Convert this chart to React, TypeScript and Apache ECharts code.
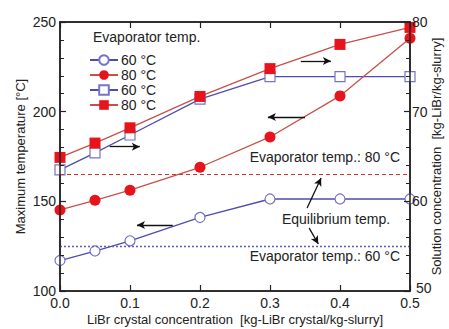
import React, { useEffect, useRef } from "react";
import * as echarts from "echarts";

const xCats = [0, 0.05, 0.1, 0.2, 0.3, 0.4, 0.5];
const maxT60 = [117, 122.3, 128, 141, 151.3, 151.3, 151.3];
const maxT80 = [145.2, 150.6, 156.2, 169, 185.9, 208.8, 241];
const conc60 = [63.5, 65.4, 67.4, 71.4, 73.9, 73.9, 73.9];
const conc80 = [64.9, 66.5, 68.2, 71.7, 74.8, 77.5, 79.4];
const evap80 = 165;
const evap60 = 125;
// annotation arrows [x1, y1, x2, y2] in left-axis data space
const arrows = [
  [0.071, 180.5, 0.114, 180.5],
  [0.344, 228.3, 0.387, 228.3],
  [0.35, 197, 0.297, 197],
  [0.161, 136.8, 0.11, 136.8],
  [0.353, 146.3, 0.373, 163],
  [0.356, 135.1, 0.369, 126.2],
];

const RED = "#e8141c";
const RED_LINE = "#c8504a";
const BLUE_LINE = "#4d4db0";
const BLUE_MARK = "#7474c8";
const FONT = "Liberation Sans, Arial, sans-serif";
const AX = "#222222";

export default function App() {
  const ref = useRef<HTMLDivElement>(null);
  useEffect(() => {
    const chart = echarts.init(ref.current!, null, { renderer: "svg" });
    const pairs = (ys: number[]) => xCats.map((x, i) => [x, ys[i]]);
    const axisText = { color: "#222", fontFamily: FONT, fontSize: 14 };
    const line = () => ({ show: true, onZero: false, lineStyle: { color: AX, width: 1.5, opacity: 1, type: "solid" } });
    const tick = () => ({ show: true, inside: true, length: 6, lineStyle: { color: AX, width: 1.2, opacity: 1, type: "solid" } });
    const minor = () => ({ show: true, splitNumber: 5, length: 4, lineStyle: { color: AX, width: 1, opacity: 1, type: "solid" } });
    chart.setOption({
      animation: false,
      textStyle: { fontFamily: FONT },
      grid: {
        left: 60,
        right: 39,
        top: 22,
        bottom: 38,
        outerBoundsMode: "none",
        containLabel: false,
      },
      legend: {
        left: 84,
        top: 48,
        orient: "vertical",
        itemWidth: 28,
        itemHeight: 12,
        itemGap: 1,
        textStyle: { ...axisText, fontSize: 14, lineHeight: 14, padding: [0, 0, 0, -2] },
        formatter: (n: string) => n.split("|")[0],
        data: ["60 °C|T", "80 °C|T", "60 °C|C", "80 °C|C"],
      },
      xAxis: [
        {
          type: "value",
          min: 0,
          max: 0.5,
          interval: 0.1,
          name: "LiBr crystal concentration  [kg-LiBr crystal/kg-slurry]",
          nameLocation: "middle",
          nameGap: 22,
          nameMoveOverlap: false,
          nameTextStyle: { ...axisText, fontSize: 13 },
          axisLine: line(),
          axisTick: tick(),
          axisLabel: { ...axisText, margin: 5, formatter: (v: number) => v.toFixed(1) },
          splitLine: { show: false },
          z: 10,
        },
        {
          type: "value",
          position: "top",
          min: 0,
          max: 0.5,
          interval: 0.1,
          axisLine: line(),
          axisTick: tick(),
          axisLabel: { show: false },
          splitLine: { show: false },
          z: 10,
        },
      ],
      yAxis: [
        {
          type: "value",
          min: 100,
          max: 250,
          interval: 50,
          name: "Maximum temperature [°C]",
          nameLocation: "middle",
          nameGap: 33,
          nameRotate: 90,
          nameMoveOverlap: false,
          nameTextStyle: { ...axisText, fontSize: 13 },
          axisLine: line(),
          axisTick: tick(),
          minorTick: minor(),
          axisLabel: { ...axisText, margin: 4 },
          splitLine: { show: false },
          z: 10,
        },
        {
          type: "value",
          position: "right",
          min: 50,
          max: 80,
          interval: 10,
          name: "Solution concentration  [kg-LiBr/kg-slurry]",
          nameLocation: "middle",
          nameGap: 20,
          nameRotate: 90,
          nameMoveOverlap: false,
          nameTextStyle: { ...axisText, fontSize: 13 },
          axisLine: line(),
          axisTick: tick(),
          minorTick: minor(),
          axisLabel: {
            ...axisText,
            margin: 2,
            formatter: (v: number) => (v === 50 ? "{lo|50}" : String(v)),
            rich: { lo: { ...axisText, padding: [0, 0, 6, 4] } },
          },
          splitLine: { show: false },
          z: 10,
        },
      ],
      series: [
        {
          name: "60 °C|T",
          type: "line",
          yAxisIndex: 0,
          data: pairs(maxT60),
          symbol: "circle",
          symbolSize: 10,
          lineStyle: { color: BLUE_LINE, width: 1.3 },
          itemStyle: { color: "#fff", borderColor: BLUE_MARK, borderWidth: 1.2 },
          z: 3,
          markLine: {
            silent: true,
            symbol: ["none", "none"],
            label: { show: false },
            lineStyle: { color: "#5a5ac8", type: [2, 2], width: 1.3 },
            data: [{ yAxis: evap60 }],
          },
        },
        {
          name: "80 °C|T",
          type: "line",
          yAxisIndex: 0,
          data: pairs(maxT80),
          symbol: "circle",
          symbolSize: 11,
          lineStyle: { color: RED_LINE, width: 1.3 },
          itemStyle: { color: RED, borderColor: RED, borderWidth: 0 },
          z: 4,
          markLine: {
            silent: true,
            symbol: ["none", "none"],
            label: { show: false },
            lineStyle: { color: "#d83030", type: [4, 3], width: 1.2 },
            data: [{ yAxis: evap80 }],
          },
        },
        {
          name: "60 °C|C",
          type: "line",
          yAxisIndex: 1,
          data: pairs(conc60),
          symbol: "rect",
          symbolSize: 10,
          lineStyle: { color: BLUE_LINE, width: 1.3 },
          itemStyle: { color: "#fff", borderColor: BLUE_MARK, borderWidth: 1.2 },
          z: 3,
        },
        {
          name: "80 °C|C",
          type: "line",
          yAxisIndex: 1,
          data: pairs(conc80),
          symbol: "rect",
          symbolSize: 11,
          lineStyle: { color: RED_LINE, width: 1.3 },
          itemStyle: { color: RED, borderColor: RED, borderWidth: 0 },
          z: 4,
        },
        {
          name: "arrows",
          type: "line",
          yAxisIndex: 0,
          data: [],
          markLine: {
            silent: true,
            symbol: ["none", "arrow"],
            symbolSize: [6, 8],
            label: { show: false },
            lineStyle: { color: "#111", type: "solid", width: 1.3 },
            data: arrows.map((a) => [
              { coord: [a[0], a[1]] },
              { coord: [a[2], a[3]] },
            ]),
          },
        },
      ],
      graphic: [
        {
          type: "rect",
          shape: { x: 60, y: 22, width: 350, height: 269 },
          style: { fill: "none", stroke: AX, lineWidth: 1.5 },
          silent: true,
          z: 1,
        },
        {
          type: "text",
          left: 93,
          top: 30,
          style: { text: "Evaporator temp.", font: "14px " + FONT, fill: "#222" },
        },
        {
          type: "text",
          x: 400,
          y: 157,
          style: {
            text: "Evaporator temp.: 80 °C",
            font: "14px " + FONT,
            fill: "#222",
            align: "right",
            verticalAlign: "middle",
          },
        },
        {
          type: "text",
          x: 336,
          y: 219,
          style: {
            text: "Equilibrium temp.",
            font: "14px " + FONT,
            fill: "#222",
            align: "center",
            verticalAlign: "middle",
          },
        },
        {
          type: "text",
          x: 400,
          y: 256,
          style: {
            text: "Evaporator temp.: 60 °C",
            font: "14px " + FONT,
            fill: "#222",
            align: "right",
            verticalAlign: "middle",
          },
        },
      ],
    });
    return () => chart.dispose();
  }, []);
  return (
    <div
      ref={ref}
      style={{ position: "absolute", left: 0, top: 0, width: 449, height: 329 }}
    />
  );
}
